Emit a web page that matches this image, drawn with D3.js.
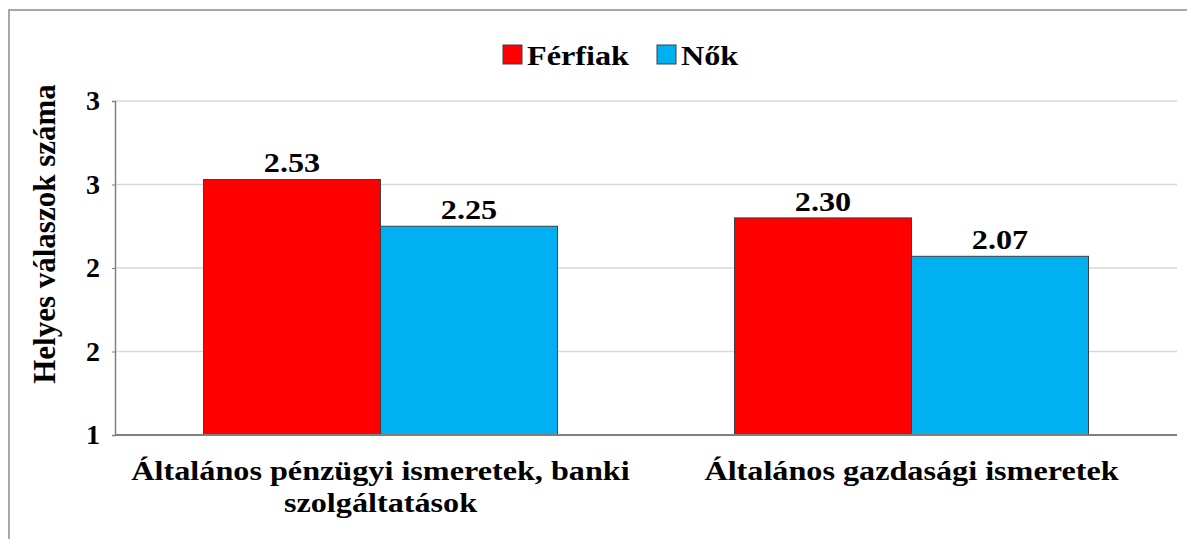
<!DOCTYPE html>
<html>
<head>
<meta charset="utf-8">
<script src="https://cdn.jsdelivr.net/npm/d3@7"></script>
<style>
  body { margin: 0; background: #fff; }
</style>
</head>
<body>
<svg id="chart" width="1187" height="539"></svg>
<script>
// --- DATA ---
const categories = [
    ["Általános pénzügyi ismeretek, banki", "szolgáltatások"],
    ["Általános gazdasági ismeretek"]
];
const seriesNames = ["Férfiak", "Nők"];
const ferfiak = [2.53, 2.30];
const nok = [2.25, 2.07];
const yTicks = [1, 1.5, 2, 2.5, 3];
const colors = ["#FF0000", "#00B0F0"];

// --- SETUP ---
const FONT = '"Liberation Serif", "Times New Roman", serif';
const STRETCH = 1.15; // reference text is a bit wider than the font
const svg = d3.select("#chart");
const margin = { left: 115, right: 10, top: 101, bottom: 104 };
const width = 1187, height = 539;

function wideText(sel, x, y) {
    return sel.attr("transform", `translate(${x},${y}) scale(${STRETCH},1)`)
        .style("font-family", FONT).style("font-weight", "bold");
}

// outer frame
svg.append("rect")
    .attr("x", 9).attr("y", 10)
    .attr("width", 1200).attr("height", 600)
    .attr("fill", "none").attr("stroke", "#8c8c8c").attr("stroke-width", 1.5);

const x0 = d3.scaleBand()
    .domain(d3.range(categories.length))
    .range([margin.left, width - margin.right]);

const x1 = d3.scaleBand()
    .domain(d3.range(seriesNames.length))
    .range([0, x0.bandwidth()])
    .paddingOuter(0.5).paddingInner(0);

const y = d3.scaleLinear().domain([1, 3]).range([height - margin.bottom, margin.top]);

// gridlines
svg.append("g")
    .selectAll("line")
    .data(yTicks.filter(t => t > 1))
    .join("line")
    .attr("x1", margin.left).attr("x2", width - margin.right)
    .attr("y1", d => y(d)).attr("y2", d => y(d))
    .attr("stroke", "#d9d9d9").attr("stroke-width", 1.5);

// bars
const rows = categories.map((c, i) => [ferfiak[i], nok[i]]);
const groups = svg.append("g").selectAll("g")
    .data(rows)
    .join("g")
    .attr("transform", (d, i) => `translate(${x0(i)},0)`);

groups.selectAll("rect")
    .data(d => d)
    .join("rect")
    .attr("x", (d, j) => x1(j))
    .attr("width", x1.bandwidth())
    .attr("y", d => y(d))
    .attr("height", d => y(1) - y(d))
    .attr("fill", (d, j) => colors[j])
    .attr("stroke", "#404040").attr("stroke-width", 1);

groups.selectAll("text.val")
    .data(d => d)
    .join("text")
    .attr("class", "val")
    .each(function(d, j) {
        wideText(d3.select(this), x1(j) + x1.bandwidth() / 2, y(d) - 7);
    })
    .attr("text-anchor", "middle")
    .attr("font-size", 28)
    .text(d => d.toFixed(2));

// y axis
const yAxis = svg.append("g")
    .attr("transform", `translate(${margin.left},0)`)
    .call(d3.axisLeft(y).tickValues(yTicks).tickFormat(d => Math.round(d)).tickSize(3).tickPadding(12));
yAxis.select(".domain").attr("stroke", "#7f7f7f").attr("stroke-width", 1.5);
yAxis.selectAll(".tick line").attr("stroke", "#7f7f7f");
yAxis.selectAll(".tick text")
    .style("font-family", FONT).style("font-weight", "bold")
    .attr("font-size", 28).attr("fill", "#000");

// x axis line
svg.append("line")
    .attr("x1", margin.left).attr("x2", width - margin.right)
    .attr("y1", y(1)).attr("y2", y(1))
    .attr("stroke", "#7f7f7f").attr("stroke-width", 2);

// category labels
svg.append("g").selectAll("text")
    .data(categories)
    .join("text")
    .each(function(d, i) {
        wideText(d3.select(this), x0(i) + x0.bandwidth() / 2, 480);
        d3.select(this).selectAll("tspan")
            .data(d).join("tspan")
            .attr("x", 0)
            .attr("dy", (t, k) => k === 0 ? 0 : 32)
            .text(t => t);
    })
    .attr("text-anchor", "middle")
    .attr("font-size", 28);

// y axis title
svg.append("text")
    .attr("transform", "translate(55,234) rotate(-90)")
    .style("font-family", FONT).style("font-weight", "bold")
    .attr("text-anchor", "middle")
    .attr("font-size", 31)
    .text("Helyes válaszok száma");

// legend
const legendX = [503, 657];
const legend = svg.append("g").selectAll("g")
    .data(seriesNames)
    .join("g")
    .attr("transform", (d, i) => `translate(${legendX[i]},45)`);
legend.append("rect")
    .attr("width", 19).attr("height", 19)
    .attr("fill", (d, i) => colors[i])
    .attr("stroke", "#404040").attr("stroke-width", 1);
legend.append("text")
    .each(function() { wideText(d3.select(this), 24, 20); })
    .attr("font-size", 28)
    .text(d => d);
</script>
</body>
</html>
